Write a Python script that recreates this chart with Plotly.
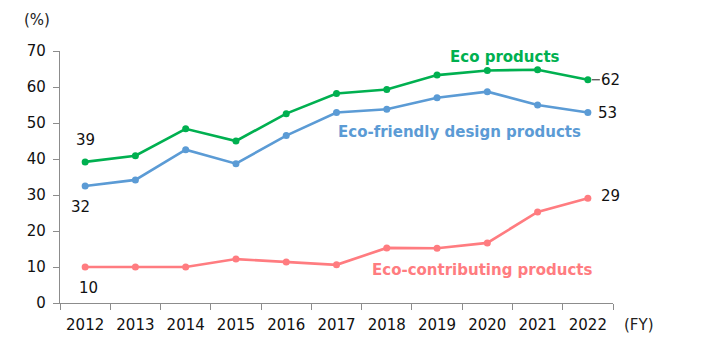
import plotly.graph_objects as go

years = ["2012", "2013", "2014", "2015", "2016", "2017", "2018", "2019", "2020", "2021", "2022"]
eco_products = [39.2, 40.9, 48.4, 45.0, 52.6, 58.2, 59.3, 63.3, 64.6, 64.8, 62.0]
eco_friendly = [32.5, 34.2, 42.6, 38.7, 46.5, 52.9, 53.8, 57.0, 58.7, 55.0, 52.9]
eco_contributing = [10.0, 10.0, 10.0, 12.2, 11.4, 10.6, 15.3, 15.2, 16.7, 25.3, 29.1]

GREEN = "#00B050"
BLUE = "#5B9BD5"
RED = "#FF7C80"
FONT = "DejaVu Sans"

fig = go.Figure()
for vals, col in [(eco_contributing, RED), (eco_friendly, BLUE), (eco_products, GREEN)]:
    fig.add_trace(go.Scatter(
        x=years, y=vals, mode="lines+markers",
        line=dict(color=col, width=2.6),
        marker=dict(color=col, size=7),
        hoverinfo="skip", showlegend=False,
    ))

num_font = dict(family=FONT, size=15, color="#111111")
first, last = 0, len(years) - 1
ann = []
# value labels at the first and last years
ann.append(dict(x=first, y=eco_products[first], text=f"{round(eco_products[first])}", showarrow=False,
                yshift=22, font=num_font))
ann.append(dict(x=first, y=eco_friendly[first], text=f"{round(eco_friendly[first])}", showarrow=False,
                yshift=-21, xshift=-5, font=num_font))
ann.append(dict(x=first, y=eco_contributing[first], text=f"{round(eco_contributing[first])}", showarrow=False,
                yshift=-21, xshift=3, font=num_font))
ann.append(dict(x=last, y=eco_products[last], text=f"{round(eco_products[last])}", showarrow=True,
                ax=23, ay=0, arrowhead=0, arrowwidth=1, arrowcolor="#222222", standoff=4,
                font=num_font))
ann.append(dict(x=last, y=eco_friendly[last], text=f"{round(eco_friendly[last])}", showarrow=False,
                xshift=20, font=num_font))
ann.append(dict(x=last, y=eco_contributing[last], text=f"{round(eco_contributing[last])}", showarrow=False,
                xshift=23, yshift=2, font=num_font))

# series names
ann.append(dict(x=8.35, y=68.3, text="<b>Eco products</b>", showarrow=False,
                font=dict(family=FONT, size=15, color=GREEN)))
ann.append(dict(x=7.45, y=47.4, text="<b>Eco-friendly design products</b>", showarrow=False,
                font=dict(family=FONT, size=15, color=BLUE)))
ann.append(dict(x=7.91, y=9.3, text="<b>Eco-contributing products</b>", showarrow=False,
                font=dict(family=FONT, size=15, color=RED)))

# axis unit labels
ann.append(dict(xref="paper", yref="paper", x=-0.0416, y=1.0, yshift=31, text="(%)", showarrow=False,
                xanchor="center", yanchor="middle", font=dict(family=FONT, size=15, color="#222222")))
ann.append(dict(xref="paper", yref="paper", x=1.0, y=0, xshift=9, yshift=-22, text="(FY)", showarrow=False,
                xanchor="left", yanchor="middle", font=dict(family=FONT, size=15, color="#222222")))

fig.update_layout(
    width=715, height=338,
    margin=dict(l=60, r=102, t=51, b=35, autoexpand=False),
    paper_bgcolor="white", plot_bgcolor="white",
    annotations=ann,
    xaxis=dict(
        type="category", range=[-0.5, 10.5], tickson="boundaries",
        showline=True, linecolor="#8c8c8c", linewidth=1.3,
        ticks="outside", ticklen=6, tickcolor="#8c8c8c", tickwidth=1.3,
        ticklabelstandoff=8, automargin=False,
        showgrid=False, zeroline=False,
        tickfont=dict(family=FONT, size=15, color="#111111"),
    ),
    yaxis=dict(
        range=[0, 70], dtick=10, tick0=0,
        showline=True, linecolor="#8c8c8c", linewidth=1.3,
        ticks="outside", ticklen=6, tickcolor="#8c8c8c", tickwidth=1.3,
        ticklabelstandoff=4, automargin=False,
        showgrid=False, zeroline=False,
        tickfont=dict(family=FONT, size=15, color="#111111"),
    ),
)

fig.write_html("out.html")
